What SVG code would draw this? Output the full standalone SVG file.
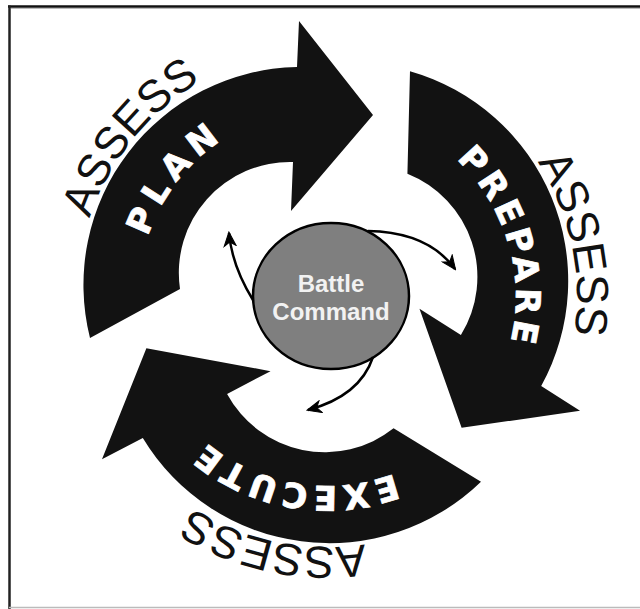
<svg xmlns="http://www.w3.org/2000/svg" width="640" height="609" viewBox="0 0 640 609">
<style>
.band{fill:#121212}
.lbl{font-family:"DejaVu Sans","Liberation Sans",Arial,sans-serif;font-weight:bold;font-size:34px;fill:#fff;stroke:#fff;stroke-width:0.8px;letter-spacing:4.5px}
.assess{font-family:"Liberation Sans",Arial,sans-serif;font-size:45px;fill:#111}
.bc{font-family:"Liberation Sans",Arial,sans-serif;font-weight:bold;font-size:24px;fill:#f2f2f2;text-anchor:middle}
.link{fill:none;stroke:#000;stroke-width:2.5}
</style>
<defs>
<path id="lblArc" d="M148.3,358.5 A189,189 0 0 1 363.1,111.5"/>
<path id="assArc" d="M78.9,327.5 A250,250 0 0 1 340.1,47.3"/>
<path id="arrowShape" d="M90,338 A218,218 0 0 1 297,67 L299,21 L373,115 L291,211 L293,162 A111,111 0 0 0 180,289 Z"/>
<marker id="ah" viewBox="0 0 16 14" refX="14" refY="7" markerWidth="16" markerHeight="14" markerUnits="userSpaceOnUse" orient="auto">
<path d="M1,1 L15,7 L1,13 L5,7 Z" fill="#000" stroke="#000" stroke-width="1" stroke-linejoin="miter"/>
</marker>
</defs>
<rect width="640" height="609" fill="#fff"/>
<g id="frame">
<line x1="8" y1="6.5" x2="640" y2="6.5" stroke="#111" stroke-width="2.5"/>
<line x1="9.5" y1="5.5" x2="9.5" y2="609" stroke="#222" stroke-width="2.5"/>
<line x1="11" y1="8.5" x2="640" y2="8.5" stroke="#bbb" stroke-width="1"/>
<line x1="9" y1="607.5" x2="640" y2="607.5" stroke="#bbb" stroke-width="1.5"/>
</g>
<g id="plan">
<use href="#arrowShape" class="band"/>
<text class="lbl" style="letter-spacing:7px" transform="rotate(-2.8 327 297)"><textPath href="#lblArc" startOffset="50%" text-anchor="middle">PLAN</textPath></text>
<text class="assess" transform="rotate(-4 327 297)"><textPath href="#assArc" startOffset="50%" text-anchor="middle">ASSESS</textPath></text>
</g>
<g id="prepare" transform="rotate(120 327 297)">
<use href="#arrowShape" class="band"/>
<text class="lbl" transform="rotate(3 327 297)"><textPath href="#lblArc" startOffset="50%" text-anchor="middle">PREPARE</textPath></text>
<text class="assess" transform="rotate(5 327 297)"><textPath href="#assArc" startOffset="50%" text-anchor="middle">ASSESS</textPath></text>
</g>
<g id="execute" transform="rotate(240 327 297)">
<use href="#arrowShape" class="band"/>
<text class="lbl" transform="rotate(-1 327 297)"><textPath href="#lblArc" startOffset="50%" text-anchor="middle">EXECUTE</textPath></text>
<text class="assess" transform="rotate(-1 327 297)"><textPath href="#assArc" startOffset="50%" text-anchor="middle">ASSESS</textPath></text>
</g>
<g id="battle-command">
<ellipse cx="331" cy="296" rx="78" ry="73" fill="#7f7f7f" stroke="#000" stroke-width="2.5"/>
<text class="bc" x="331" y="292">Battle</text>
<text class="bc" x="331" y="320">Command</text>
</g>
<g id="connectors">
<path class="link" d="M253,300 Q232,266 229,233" marker-end="url(#ah)"/>
<path class="link" d="M368,231 Q428,232 455,269" marker-end="url(#ah)"/>
<path class="link" d="M373,357 Q360,396 308,410" marker-end="url(#ah)"/>
</g>
</svg>
